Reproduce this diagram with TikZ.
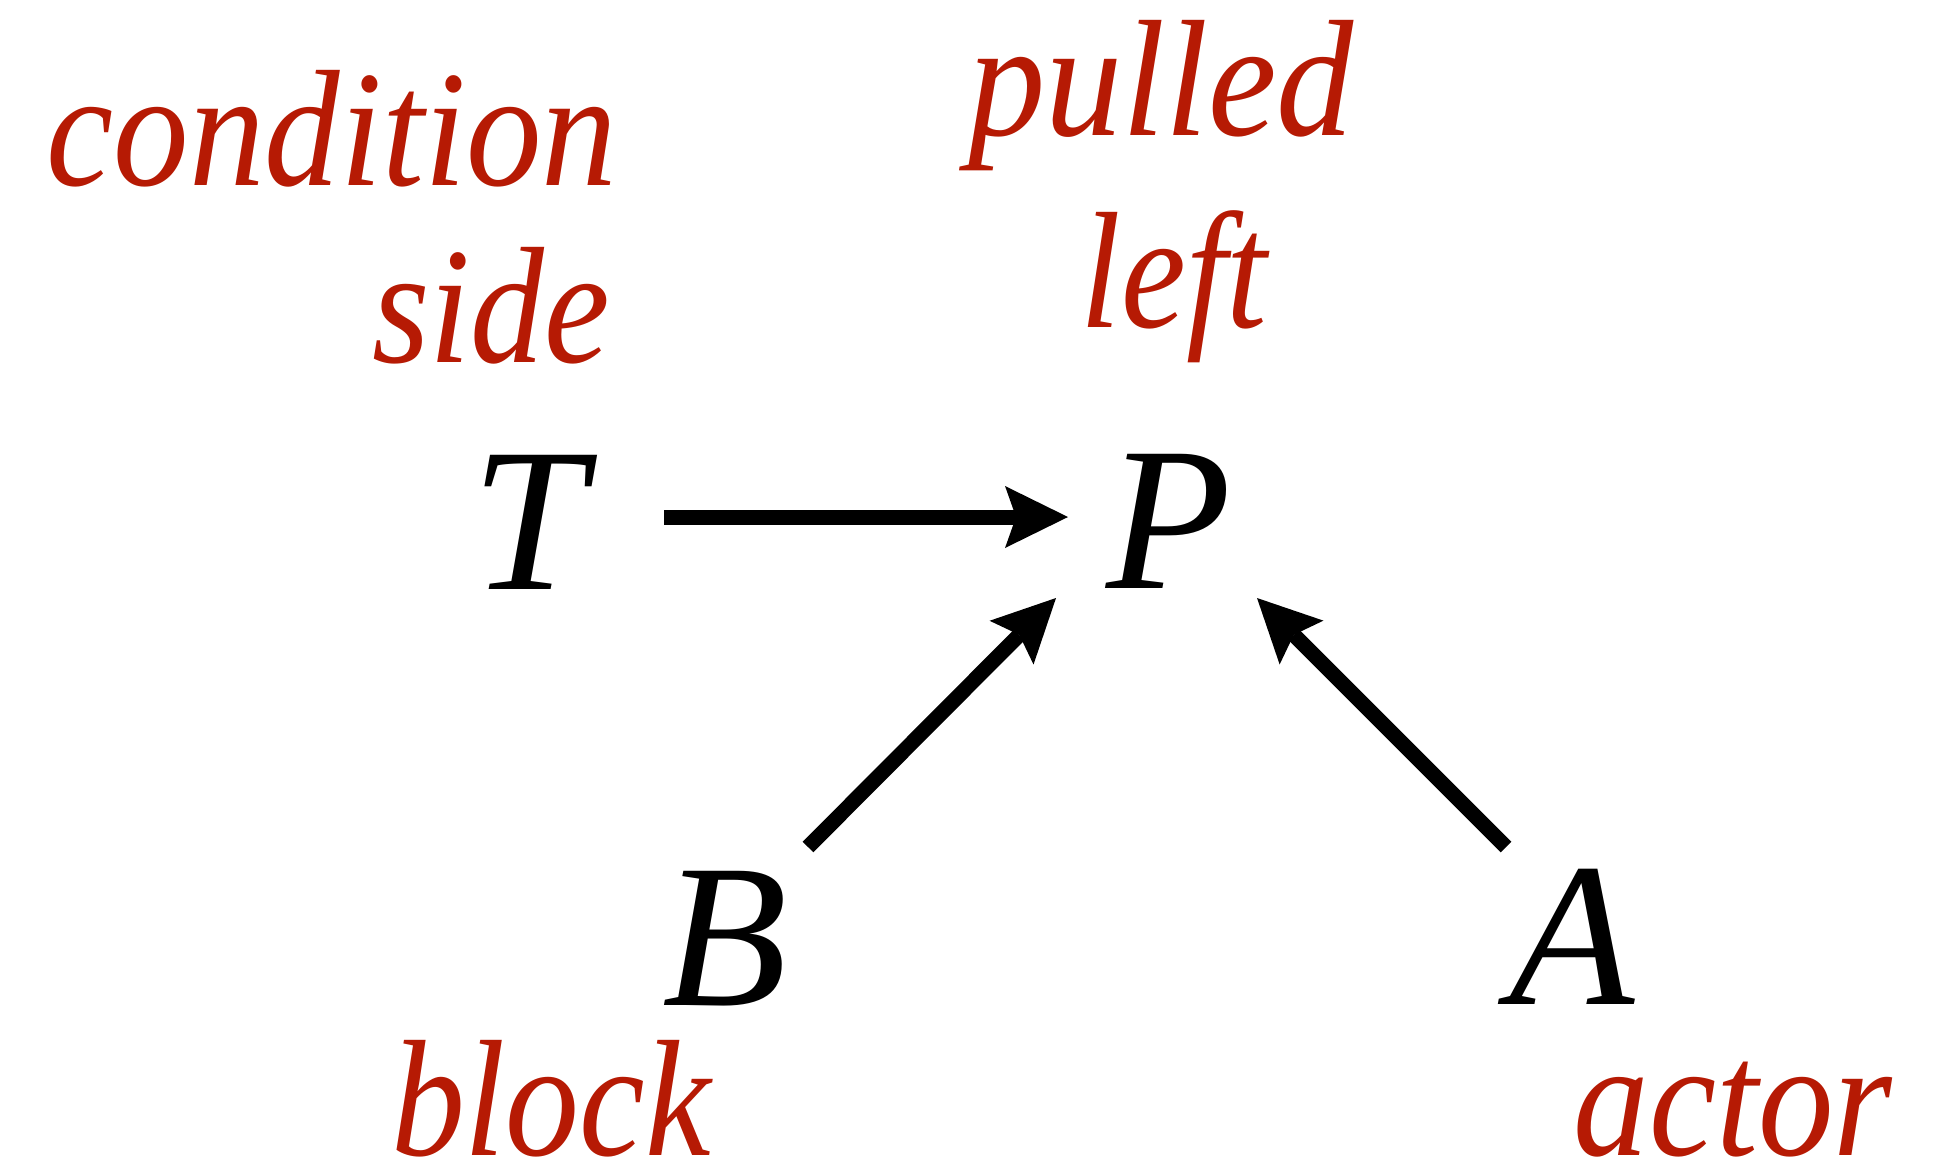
\documentclass[tikz,border=0pt]{standalone}
\usepackage{graphicx}
\usepackage{fontspec}
\setmainfont{Liberation Serif}
\usetikzlibrary{arrows.meta,calc}
\definecolor{labred}{RGB}{182,26,4}
\newcommand{\sq}[2]{\scalebox{#1}[1]{#2}}
\begin{document}
\begin{tikzpicture}[x=1pt,y=-1pt,
  letter/.style={inner sep=0pt,anchor=base,font=\fontsize{205}{205}\selectfont\itshape},
  lab/.style={inner sep=0pt,anchor=base,text depth=0pt,text=labred,font=\fontsize{166}{166}\selectfont\itshape},
  arr/.style={line width=15pt,-{Stealth[length=63pt,width=62pt,inset=11pt,line width=0pt]}}]
\useasboundingbox (0,0) rectangle (1942,1162);
\node[letter] (T) at (528,589) {T};
\node[letter] (P) at (1169,588) {P};
\node[letter] (B) at (725,1005) {B};
\node[letter] (A) at (1572,1004) {A};
\node[lab] (lcond) at (332,185) {\sq{0.91}{condition}};
\node[lab] (lside) at (491,362) {\sq{0.89}{side}};
\node[lab] (lpull) at (1161,135) {\sq{0.93}{pulled}};
\node[lab] (lleft) at (1174,327) {\sq{0.88}{left}};
\node[lab] (lblock) at (551,1155) {\sq{0.89}{block}};
\node[lab] (lactor) at (1733,1155) {\sq{0.91}{actor}};
\draw[arr] ($(T.base)+(136,-72)$) -- ($(P.base)+(-101,-71)$);
\draw[arr] ($(B.base)+(83,-158)$) -- ($(P.base)+(-113,10)$);
\draw[arr] ($(A.base)+(-66,-157)$) -- ($(P.base)+(88,10)$);
\end{tikzpicture}
\end{document}
